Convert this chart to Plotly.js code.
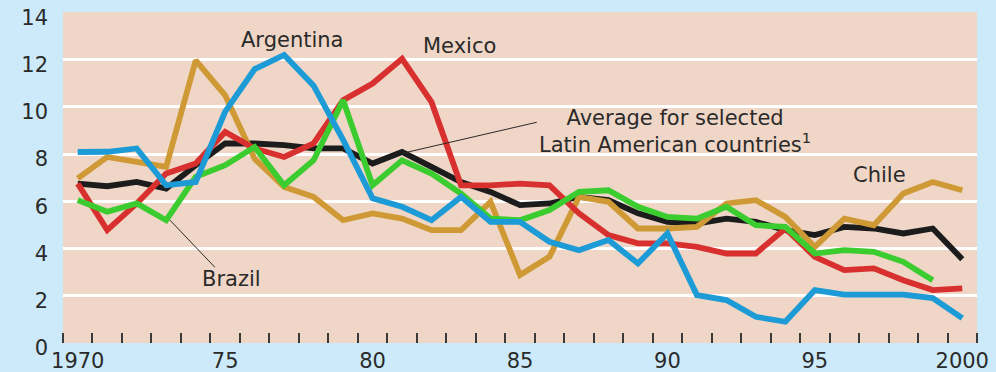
<!DOCTYPE html>
<html>
<head>
<meta charset="utf-8">
<script src="https://cdn.plot.ly/plotly-3.0.1.min.js"></script>
<style>html,body{margin:0;padding:0;background:#cdeafa;}#chart{width:996px;height:372px;}</style>
</head>
<body>
<div id="chart"></div>
<script>
const years = [];
for (let y = 1970; y <= 2000; y++) years.push(y);

const average = [6.75,6.64,6.82,6.54,7.53,8.45,8.45,8.38,8.24,8.24,7.6,8.09,7.46,6.82,6.4,5.84,5.91,6.19,6.05,5.49,5.13,5.06,5.27,5.13,4.78,4.57,4.92,4.85,4.64,4.85,3.55];
const mexico  = [6.75,4.78,5.91,7.18,7.6,8.94,8.24,7.88,8.45,10.28,10.99,12.04,10.2,6.68,6.68,6.75,6.68,5.49,4.57,4.22,4.22,4.07,3.79,3.79,4.85,3.65,3.09,3.16,2.66,2.24,2.31];
const chile   = [6.97,7.88,7.67,7.46,11.97,10.49,7.8,6.61,6.19,5.2,5.49,5.27,4.78,4.78,5.98,2.88,3.65,6.19,5.98,4.85,4.85,4.92,5.91,6.05,5.34,4.07,5.27,4.99,6.33,6.82,6.47];
const argentina = [8.09,8.1,8.24,6.68,6.82,9.8,11.6,12.2,10.9,8.6,6.13,5.77,5.2,6.19,5.13,5.13,4.29,3.93,4.36,3.37,4.64,2.03,1.82,1.11,0.9,2.24,2.05,2.05,2.05,1.9,1.05];
const brazil  = [6.05,5.56,5.91,5.2,7.04,7.53,8.3,6.68,7.74,10.28,6.68,7.74,7.18,6.33,5.27,5.2,5.63,6.4,6.47,5.77,5.34,5.27,5.77,4.99,4.92,3.79,3.93,3.86,3.44,2.66,null];

const xTickVals = [1970,1975,1980,1985,1990,1995,2000];
const xTickText = ['1970','75','80','85','90','95','2000'];
const yTickVals = [0,2,4,6,8,10,12,14];

const minorTicks = [];
for (let y = 1969.5; y <= 2000.5; y += 1) minorTicks.push(y);

const W = 5.8;
function line(name, ys, color) {
  return {x: years, y: ys, name: name, type: 'scatter', mode: 'lines',
          line: {color: color, width: W, shape: 'linear'}, connectgaps: false,
          hoverinfo: 'skip'};
}

const traces = [
  line('Average', average, '#1c1c1c'),
  line('Chile', chile, '#cf9a35'),
  line('Mexico', mexico, '#d8302f'),
  line('Brazil', brazil, '#3bcc2f'),
  line('Argentina', argentina, '#1d9bd6')
];

const txt = {family: 'DejaVu Sans, Verdana, sans-serif', size: 21, color: '#2a2a2a'};

const layout = {
  width: 996, height: 372,
  margin: {l: 63, r: 19, t: 12, b: 29, pad: 0},
  paper_bgcolor: '#cdeafa',
  plot_bgcolor: '#efd6c6',
  showlegend: false,
  font: txt,
  xaxis: {
    range: [1969.5, 2000.5],
    tickmode: 'array', tickvals: xTickVals, ticktext: xTickText,
    ticks: '', showgrid: false, zeroline: false, showline: false,
    tickfont: txt, ticklabelstandoff: 3,
    minor: {tickmode: 'array', tickvals: minorTicks, ticks: 'inside', ticklen: 10,
            tickwidth: 2, tickcolor: '#3a3a3a', showgrid: false}
  },
  yaxis: {
    range: [0, 14.02],
    tickmode: 'array', tickvals: yTickVals,
    ticks: '', showgrid: true, gridcolor: '#ffffff', gridwidth: 3,
    zeroline: false, showline: false,
    tickfont: txt, ticklabelstandoff: 14, ticklabelshift: 5
  },
  shapes: [
    {type: 'line', xref: 'x', yref: 'y', x0: 1973.13, y0: 5.2, x1: 1974.65, y1: 3.21,
     line: {color: '#2a2a2a', width: 1}},
    {type: 'line', xref: 'x', yref: 'y', x0: 1981.03, y0: 8.04, x1: 1985.57, y1: 9.35,
     line: {color: '#2a2a2a', width: 1}}
  ],
  annotations: [
    {x: 1977.26, y: 12.82, xref: 'x', yref: 'y', text: 'Argentina', showarrow: false, font: txt},
    {x: 1982.96, y: 12.56, xref: 'x', yref: 'y', text: 'Mexico', showarrow: false, font: txt},
    {x: 1990.25, y: 8.97, xref: 'x', yref: 'y', text: 'Average for selected<br>Latin American countries<sup>1</sup>', showarrow: false, font: txt, align: 'center'},
    {x: 1997.19, y: 7.11, xref: 'x', yref: 'y', text: 'Chile', showarrow: false, font: txt},
    {x: 1975.23, y: 2.71, xref: 'x', yref: 'y', text: 'Brazil', showarrow: false, font: txt}
  ]
};

Plotly.newPlot('chart', traces, layout, {displayModeBar: false, staticPlot: true});
</script>
</body>
</html>
